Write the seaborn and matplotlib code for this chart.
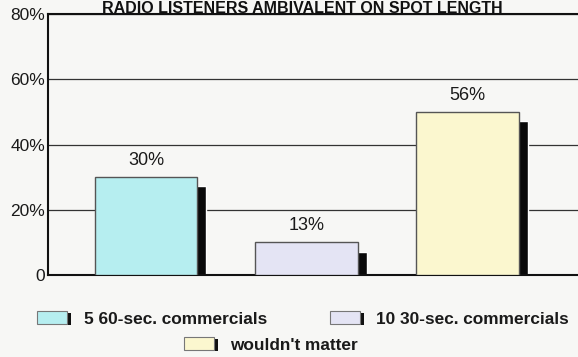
import numpy as np
import pandas as pd
import matplotlib
matplotlib.use("Agg")
import matplotlib.pyplot as plt
import seaborn as sns
from matplotlib.patches import Rectangle, Patch
from matplotlib.legend_handler import HandlerBase

# ---- data ----
categories = ["5 60-sec. commercials", "10 30-sec. commercials", "wouldn't matter"]
values = [30, 10, 50]
value_labels = ["30%", "13%", "56%"]
colors = ["#b6eef0", "#e4e4f4", "#fbf7cf"]
yticks = [0, 20, 40, 60, 80]
ytick_labels = ["0", "20%", "40%", "60%", "80%"]
title = "RADIO LISTENERS AMBIVALENT ON SPOT LENGTH"

sns.set_style("white")
plt.rcParams["font.family"] = ["Liberation Sans", "DejaVu Sans"]

bg = "#f7f7f5"
fig = plt.figure(figsize=(5.78, 3.57), dpi=100, facecolor=bg)
ax = fig.add_axes([48 / 578, 1 - 275 / 357, 1 - 48 / 578, (275 - 14) / 357])
ax.set_facecolor(bg)

df = pd.DataFrame({"cat": categories, "val": values})
bw = 0.64
sns.barplot(data=df, x="cat", y="val", hue="cat", palette=colors, width=bw,
            edgecolor="#555555", linewidth=1.0, ax=ax, legend=False, saturation=1)
for p in ax.patches:
    p.set_zorder(3)

xs = np.arange(len(values))
ax.bar(xs + 0.056, np.array(values) - 2.8, width=bw, color="#0a0a0a", zorder=2)

for x, v, lab in zip(xs, values, value_labels):
    ax.annotate(lab, (x, v), xytext=(0, 6), textcoords="offset points",
                ha="center", va="bottom", fontsize=13, color="#1a1a1a")

ax.set_ylim(0, 80)
ax.set_xlim(-0.61, 2.69)
ax.set_yticks(yticks)
ax.set_yticklabels(ytick_labels, fontsize=12.5, color="#1a1a1a")
ax.set_xticks([])
ax.set_xlabel("")
ax.set_ylabel("")
ax.yaxis.grid(True, color="#333333", linewidth=0.9, zorder=1)
ax.set_axisbelow(True)
ax.tick_params(axis="y", length=0, pad=2)
for s in ["left", "bottom", "top"]:
    ax.spines[s].set_color("#111111")
    ax.spines[s].set_linewidth(1.5)
ax.spines["right"].set_visible(False)

fig.text(302 / 578, 0.998, title, ha="center", va="top", fontsize=11.5,
         fontweight="bold", color="#111111")


class ShadowHandler(HandlerBase):
    def create_artists(self, legend, orig_handle, xdescent, ydescent,
                       width, height, fontsize, trans):
        sh = Rectangle((-xdescent + 3, -ydescent - 1), width, height,
                       facecolor="#111111", edgecolor="none", transform=trans)
        r = Rectangle((-xdescent, -ydescent), width, height,
                      facecolor=orig_handle.get_facecolor(), edgecolor="#777777",
                      linewidth=0.8, transform=trans)
        return [sh, r]


handles = [Patch(facecolor=c) for c in colors]
hmap = {Patch: ShadowHandler()}
leg_kw = dict(frameon=False, handlelength=1.75, handleheight=0.75,
              handletextpad=0.95, handler_map=hmap, borderaxespad=0, borderpad=0,
              loc="center left", prop={"size": 12.4, "weight": "bold"})
anchors = [(37 / 578, 1 - 319 / 357), (330 / 578, 1 - 319 / 357), (184 / 578, 1 - 345 / 357)]
for h, lab, anc in zip(handles, categories, anchors):
    leg = fig.legend([h], [lab], bbox_to_anchor=anc, **leg_kw)
    for t in leg.get_texts():
        t.set_color("#1a1a1a")

fig.savefig("out.png", dpi=100, facecolor=bg)
